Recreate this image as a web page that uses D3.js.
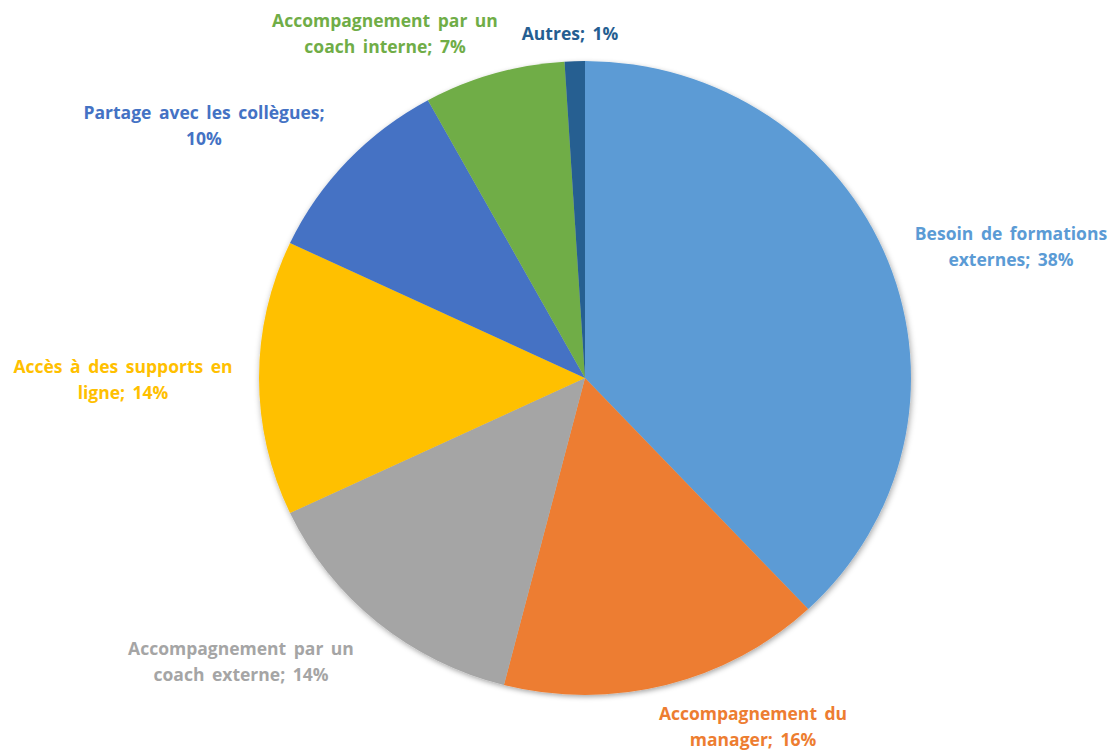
<!DOCTYPE html>
<html>
<head>
<meta charset="utf-8">
<script src="https://cdn.jsdelivr.net/npm/d3@7"></script>
<style>
  body { margin: 0; background: #fff; }
  svg text { font-family: "Open Sans", Lato, sans-serif; font-weight: bold; font-size: 17.5px; word-spacing: 3px; }
</style>
</head>
<body>
<svg id="chart"></svg>
<script>
const width = 1118, height = 751;

// data
const categories = [
  "Besoin de formations externes",
  "Accompagnement du manager",
  "Accompagnement par un coach externe",
  "Accès à des supports en ligne",
  "Partage avec les collègues",
  "Accompagnement par un coach interne",
  "Autres"
];
const values = [38, 16, 14, 14, 10, 7, 1];
const labelLines = [
  ["Besoin de formations", "externes; 38%"],
  ["Accompagnement du", "manager; 16%"],
  ["Accompagnement par un", "coach externe; 14%"],
  ["Accès à des supports en", "ligne; 14%"],
  ["Partage avec les collègues;", "10%"],
  ["Accompagnement par un", "coach interne; 7%"],
  ["Autres; 1%"]
];
const colors = ["#5B9BD5", "#ED7D31", "#A5A5A5", "#FFC000", "#4472C4", "#70AD47", "#255E91"];

// where excel put each label block (offset from pie centre)
const labelOffsets = [[426, -132], [168, 348], [-344, 283], [-462, 1], [-381, -253], [-200, -345], [-15, -345]];

const cx = 585, cy = 378, radius = 326, squash = 317 / 326;
const lineH = 26.5;

const svg = d3.select("#chart")
    .attr("width", width)
    .attr("height", height);

const defs = svg.append("defs");
const shadow = defs.append("filter")
    .attr("id", "shadow")
    .attr("x", "-10%").attr("y", "-10%")
    .attr("width", "120%").attr("height", "120%");
shadow.append("feDropShadow")
    .attr("dx", 1).attr("dy", 2)
    .attr("stdDeviation", 3)
    .attr("flood-color", "#000")
    .attr("flood-opacity", 0.35);

const data = categories.map((c, i) => ({ name: c, value: values[i], color: colors[i], lines: labelLines[i], off: labelOffsets[i] }));

const pie = d3.pie()
    .value(d => d.value)
    .sort(null);

const arc = d3.arc()
    .innerRadius(0)
    .outerRadius(radius);

const pieG = svg.append("g")
    .attr("transform", `translate(${cx},${cy}) scale(1,${squash})`)
    .attr("filter", "url(#shadow)");

pieG.selectAll("path")
    .data(pie(data))
    .enter()
    .append("path")
    .attr("d", arc)
    .attr("fill", d => d.data.color);

const labels = svg.append("g")
    .attr("transform", `translate(${cx},${cy})`)
    .selectAll("text")
    .data(data)
    .enter()
    .append("text")
    .attr("fill", d => d.color)
    .attr("text-anchor", "middle")
    .attr("dominant-baseline", "central");

labels.each(function(d) {
  const n = d.lines.length;
  d3.select(this).selectAll("tspan")
    .data(d.lines)
    .enter()
    .append("tspan")
    .attr("x", d.off[0])
    .attr("y", (l, j) => d.off[1] + (j - (n - 1) / 2) * lineH)
    .text(l => l);
});
</script>
</body>
</html>
